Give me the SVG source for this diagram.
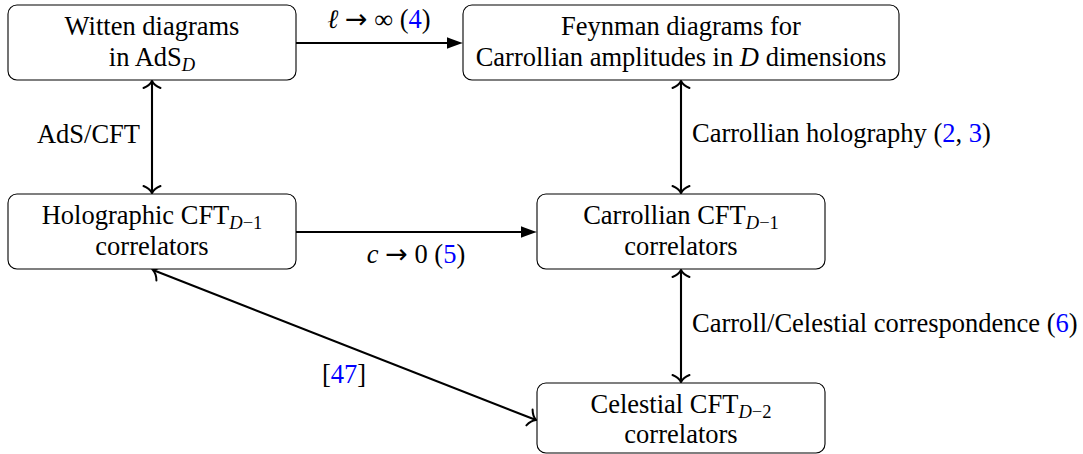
<svg xmlns="http://www.w3.org/2000/svg" width="1083" height="454" viewBox="0 0 1083 454">
<style>
text{font-family:"Liberation Serif","Times New Roman","DejaVu Serif",serif;font-size:26.5px;fill:#000}
.c{text-anchor:middle}
.i{font-style:italic}
.s{font-size:18.5px}
.b{fill:#0000ff}
.ar{font-family:"DejaVu Sans",sans-serif;font-size:27px}
.box{fill:#fff;stroke:#000;stroke-width:1.1}
.ln{stroke:#000;stroke-width:2.1;fill:none}
</style>
<defs>
<marker id="tri" markerUnits="userSpaceOnUse" markerWidth="24" markerHeight="24" viewBox="-20 -12 24 24" refX="-8" refY="0" orient="auto" overflow="visible">
<path d="M0,0 C-5,-1.6 -11,-3.6 -16,-5.8 L-16,5.8 C-11,3.6 -5,1.6 0,0 Z" fill="#000"/>
</marker>
<marker id="chev" markerUnits="userSpaceOnUse" markerWidth="24" markerHeight="24" viewBox="-12 -12 24 24" refX="0" refY="0" orient="auto-start-reverse" overflow="visible">
<path d="M-7,-8.5 C-5,-3.5 -2,-1 0,0 C-2,1 -5,3.5 -7,8.5" fill="none" stroke="#000" stroke-width="2" stroke-linecap="round"/>
</marker>
</defs>

<g id="connectors">
<line class="ln" x1="296" y1="43" x2="455" y2="43" marker-end="url(#tri)"/>
<line class="ln" x1="296" y1="232" x2="529" y2="232" marker-end="url(#tri)"/>
<line class="ln" x1="152" y1="81" x2="152" y2="193" marker-start="url(#chev)" marker-end="url(#chev)"/>
<line class="ln" x1="681" y1="81" x2="681" y2="193" marker-start="url(#chev)" marker-end="url(#chev)"/>
<line class="ln" x1="681" y1="270" x2="681" y2="382" marker-start="url(#chev)" marker-end="url(#chev)"/>
<line class="ln" x1="153" y1="270" x2="536" y2="420" marker-start="url(#chev)" marker-end="url(#chev)"/>
<text class="c" x="379" y="28"><tspan class="i">ℓ</tspan> <tspan class="ar">→</tspan> ∞ (<tspan class="b">4</tspan>)</text>
<text x="140" y="143" text-anchor="end">AdS/CFT</text>
<text x="692" y="142">Carrollian holography (<tspan class="b">2</tspan>, <tspan class="b">3</tspan>)</text>
<text class="c" x="416" y="263"><tspan class="i">c</tspan> <tspan class="ar">→</tspan> 0 (<tspan class="b">5</tspan>)</text>
<text x="692" y="332">Carroll/Celestial correspondence (<tspan class="b">6</tspan>)</text>
<text class="c" x="344" y="383">[<tspan class="b">47</tspan>]</text>
</g>

<g id="witten">
<rect class="box" x="8" y="5" width="288" height="75" rx="9"/>
<text class="c" x="152" y="35">Witten diagrams</text>
<text class="c" x="152" y="66">in AdS<tspan class="s i" dy="5">D</tspan></text>
</g>

<g id="feynman">
<rect class="box" x="463" y="5" width="436" height="75" rx="9"/>
<text class="c" x="681" y="35">Feynman diagrams for</text>
<text class="c" x="681" y="66">Carrollian amplitudes in <tspan class="i">D</tspan> dimensions</text>
</g>

<g id="holographic">
<rect class="box" x="8" y="194" width="288" height="75" rx="9"/>
<text class="c" x="152" y="224">Holographic CFT<tspan class="s" dy="5"><tspan class="i">D</tspan>−1</tspan></text>
<text class="c" x="152" y="255">correlators</text>
</g>

<g id="carrollian">
<rect class="box" x="537" y="194" width="288" height="75" rx="9"/>
<text class="c" x="681" y="224">Carrollian CFT<tspan class="s" dy="5"><tspan class="i">D</tspan>−1</tspan></text>
<text class="c" x="681" y="255">correlators</text>
</g>

<g id="celestial">
<rect class="box" x="537" y="383" width="288" height="70" rx="9"/>
<text class="c" x="681" y="413">Celestial CFT<tspan class="s" dy="5"><tspan class="i">D</tspan>−2</tspan></text>
<text class="c" x="681" y="443">correlators</text>
</g>
</svg>
